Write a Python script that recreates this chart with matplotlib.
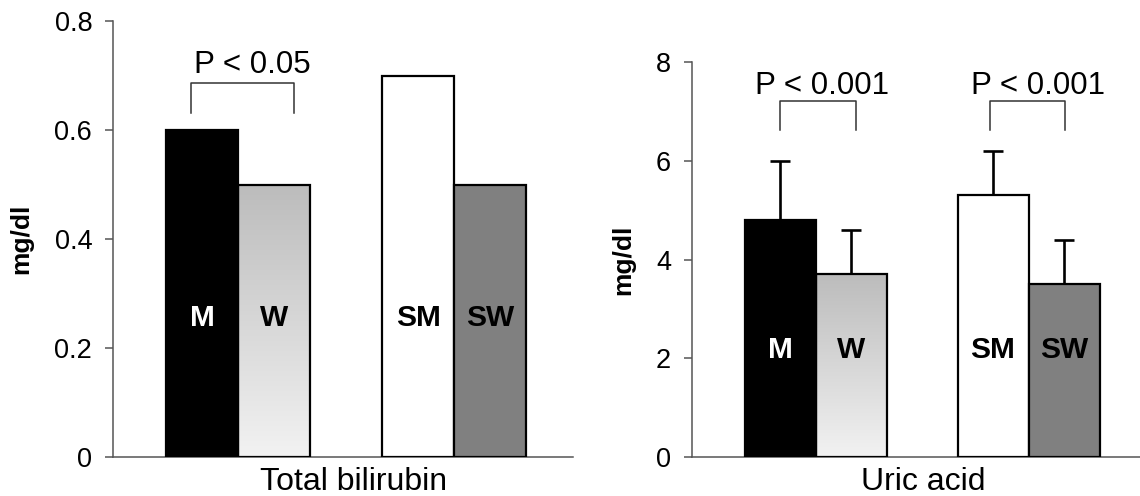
import numpy as np
import matplotlib
matplotlib.use('Agg')
import matplotlib.pyplot as plt
from matplotlib.colors import LinearSegmentedColormap

plt.rcParams['font.family'] = ['Liberation Sans', 'DejaVu Sans']

# data
groups = ['M', 'W', 'SM', 'SW']
positions = [0, 1, 3, 4]
bilirubin = [0.6, 0.5, 0.7, 0.5]
uric = [4.8, 3.7, 5.3, 3.5]
uric_sd = [1.2, 0.9, 0.9, 0.9]
bili_ticks = [0, 0.2, 0.4, 0.6, 0.8]
bili_ticklabels = ['0', '0.2', '0.4', '0.6', '0.8']
uric_ticks = [0, 2, 4, 6, 8]

face = ['black', None, 'white', '#808080']
label_color = ['white', 'black', 'black', 'black']
grad = LinearSegmentedColormap.from_list('w', ['#f2f2f2', '#bcbcbc'])

fig = plt.figure(figsize=(11.4, 4.96), dpi=100)
ax1 = fig.add_axes([0.0991, 0.0786, 0.4035, 0.879])
ax2 = fig.add_axes([0.607, 0.0786, 0.393, 0.7964])


def draw(ax, vals, ylim, xlim, label_y):
    ax.set_xlim(*xlim)
    ax.set_ylim(*ylim)
    for i, (x, v) in enumerate(zip(positions, vals)):
        if face[i] is None:
            bar = ax.bar(x, v, width=1.0, facecolor='none', edgecolor='black',
                         linewidth=1.6, zorder=3)[0]
            img = ax.imshow(np.linspace(0, 1, 256).reshape(-1, 1), cmap=grad,
                            extent=[x - 0.5, x + 0.5, 0, v], aspect='auto',
                            origin='lower', zorder=2)
            img.set_clip_path(bar)
        else:
            ax.bar(x, v, width=1.0, color=face[i], edgecolor='black',
                   linewidth=1.6, zorder=3)
        ax.text(x, label_y, groups[i], ha='center', va='center', fontsize=21.5,
                fontweight='bold', color=label_color[i], zorder=5)
    ax.set_xlim(*xlim)
    ax.set_ylim(*ylim)
    for s in ['top', 'right']:
        ax.spines[s].set_visible(False)
    for s in ['left', 'bottom']:
        ax.spines[s].set_color('#555555')
        ax.spines[s].set_linewidth(1.1)
    ax.set_xticks([])
    ax.tick_params(axis='y', direction='out', length=6, width=1.1,
                   color='#555555', labelsize=19.5, pad=9)
    ax.set_ylabel('mg/dl', fontsize=19, fontweight='bold')


def bracket(ax, x0, x1, top, bottom):
    ax.plot([x0, x0, x1, x1], [bottom, top, top, bottom], color='#333333',
            linewidth=1.1, clip_on=False)


# Total bilirubin
draw(ax1, bilirubin, (0, 0.8), (-1.24, 5.15), 0.255)
ax1.set_yticks(bili_ticks)
ax1.set_yticklabels(bili_ticklabels)
bracket(ax1, -0.15, 1.27, 0.686, 0.631)
ax1.text(0.69, 0.704, 'P < 0.05', ha='center', va='baseline', fontsize=22.5)
ax1.set_xlabel('Total bilirubin', fontsize=23)
ax1.xaxis.set_label_coords(0.522, -0.022)
ax1.xaxis.label.set_va('top')
ax1.yaxis.set_label_coords(-0.174, 0.5)

# Uric acid
draw(ax2, uric, (0, 8), (-1.24, 5.07), 2.17)
ax2.set_yticks(uric_ticks)
eb = ax2.errorbar(positions, uric, yerr=[np.zeros(len(uric)), uric_sd],
                  fmt='none', ecolor='black', elinewidth=1.9, capsize=7,
                  capthick=1.9, zorder=4)
eb[1][0].set_visible(False)  # no cap at the bar top
bracket(ax2, 0, 1.07, 7.21, 6.62)
bracket(ax2, 2.96, 4.01, 7.21, 6.62)
ax2.text(0.59, 7.35, 'P < 0.001', ha='center', va='baseline', fontsize=22.5)
ax2.text(3.63, 7.35, 'P < 0.001', ha='center', va='baseline', fontsize=22.5)
ax2.set_xlabel('Uric acid', fontsize=23)
ax2.xaxis.set_label_coords(0.516, -0.025)
ax2.xaxis.label.set_va('top')
ax2.yaxis.set_label_coords(-0.127, 0.5)

fig.savefig('out.png', dpi=100)
